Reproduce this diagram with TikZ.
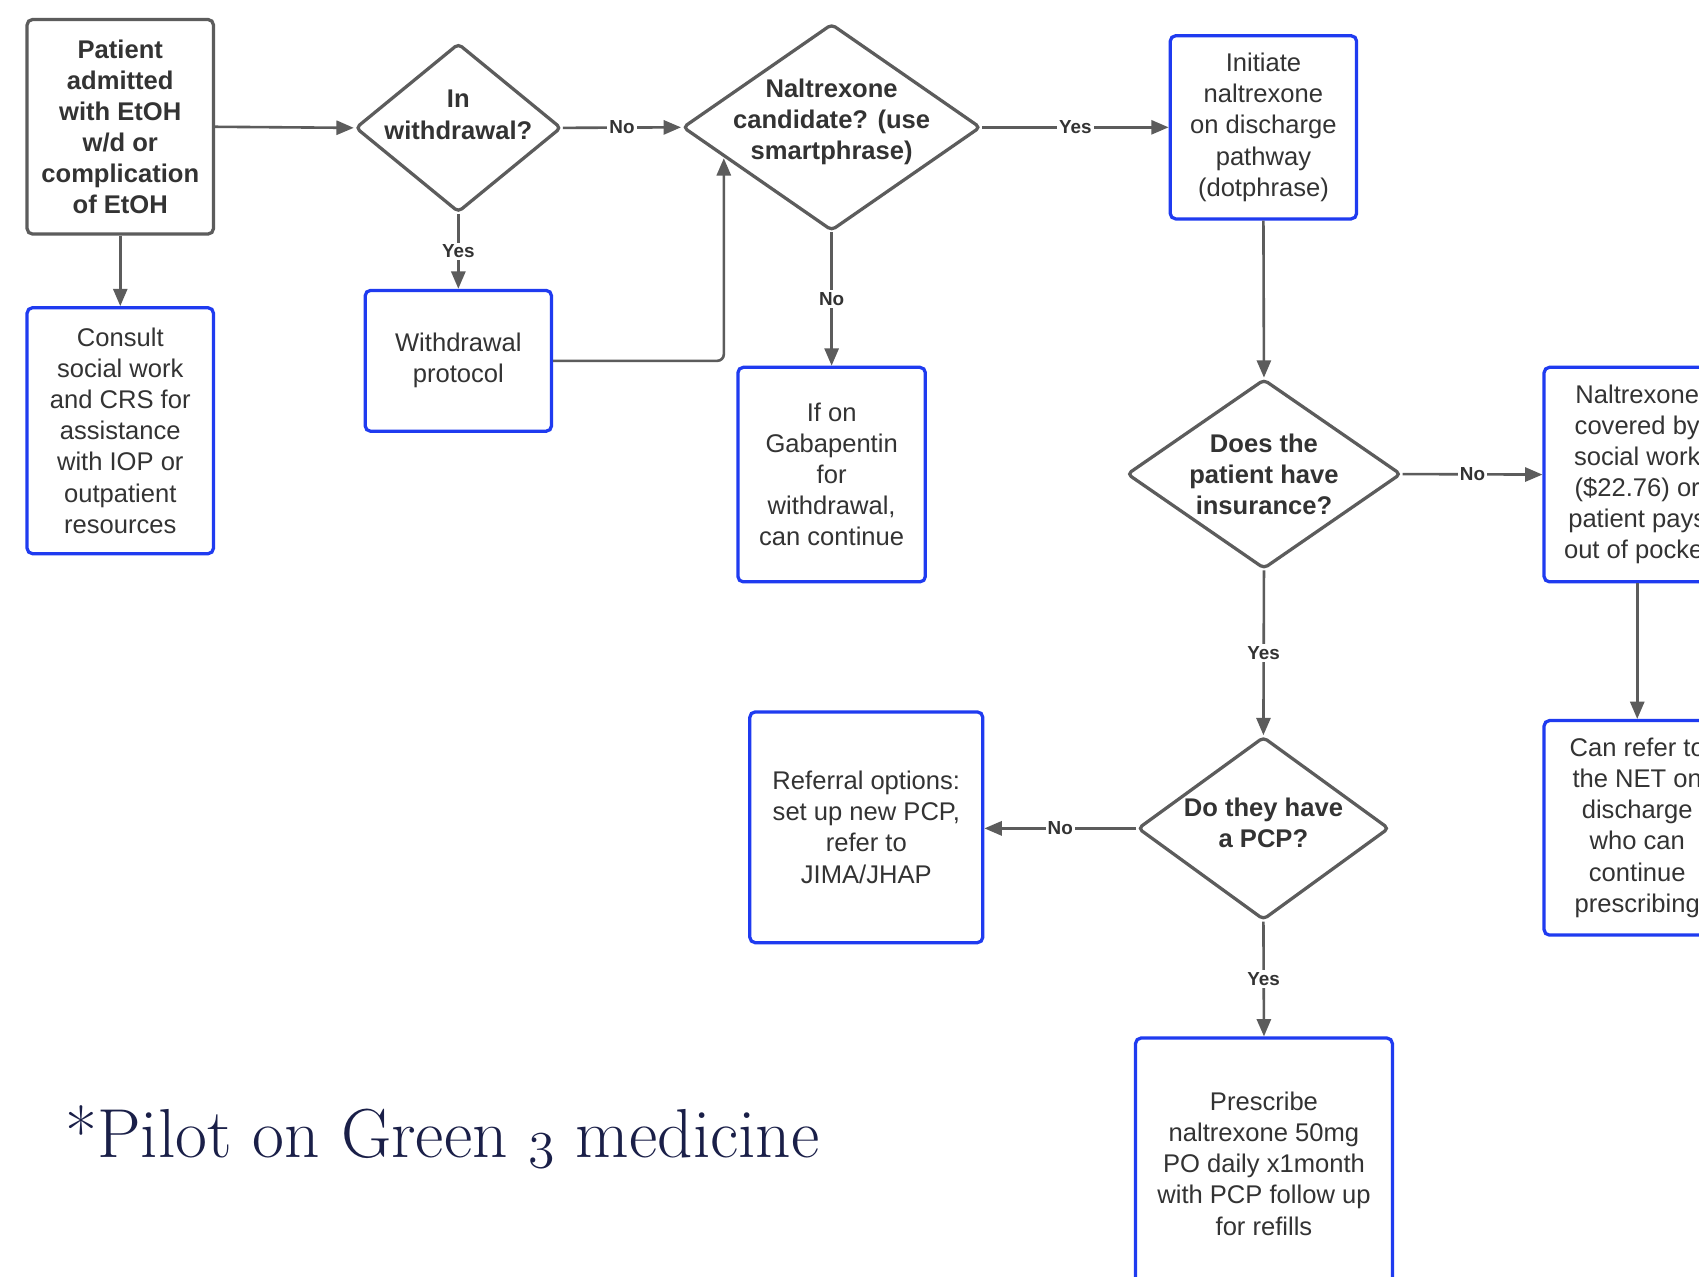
\documentclass[tikz,border=0pt]{standalone}
\usepackage{fontspec}
\newfontfamily\af{Liberation Sans}
\usetikzlibrary{arrows.meta,shapes.geometric}
\definecolor{bl}{HTML}{1F3BF0}
\definecolor{ln}{HTML}{5C5C5C}
\definecolor{tx}{HTML}{333333}
\definecolor{navy}{HTML}{1A1F48}
\newcommand{\osthree}{{\usefont{OML}{cmm}{m}{it}3}}
\begin{document}
\begin{tikzpicture}[x=0.5pt,y=-0.5pt,
  box/.style={draw, line width=1.5pt, rounded corners=2.5pt, align=center, text=tx,
    font=\af\fontsize{11.8}{14.35}\selectfont, inner sep=0pt},
  bluebox/.style={box, draw=bl},
  graybox/.style={box, draw=ln, font=\af\bfseries\fontsize{11.8}{14.35}\selectfont},
  dia/.style={diamond, draw=ln, line width=1.5pt, rounded corners=2pt, inner sep=0pt},
  dtext/.style={text=tx, font=\af\bfseries\fontsize{11.8}{14.35}\selectfont, align=center},
  conn/.style={draw=ln, line width=1.2pt, -{Triangle[length=8pt,width=6.5pt]}},
  lbl/.style={fill=white, text=tx, font=\af\bfseries\fontsize{8.7}{10}\selectfont, inner sep=1pt}]
\fill[white] (0,0) rectangle (1568,1178);
\clip (0,0) rectangle (1568,1178);

\node[graybox, minimum width=86pt, minimum height=99pt] (pat) at (111,117)
  {Patient\\admitted\\with EtOH\\w/d or\\complication\\of EtOH};
\node[bluebox, minimum width=86pt, minimum height=113.5pt] (cons) at (111,397.5)
  {Consult\\social work\\and CRS for\\assistance\\with IOP or\\outpatient\\resources};
\node[dia, minimum width=95pt, minimum height=78pt,
  label={[dtext,yshift=6pt]center:In\\withdrawal?}] (wd) at (423,118) {};
\node[bluebox, minimum width=86pt, minimum height=65pt] (wp) at (423,333)
  {Withdrawal\\protocol};
\node[dia, minimum width=137.5pt, minimum height=95.5pt,
  label={[dtext,yshift=2.5pt]center:Naltrexone\\candidate? (use\\smartphrase)}] (nal) at (767.5,117.5) {};
\node[bluebox, minimum width=86pt, minimum height=84.5pt] (ini) at (1166,117.5)
  {Initiate\\naltrexone\\on discharge\\pathway\\(dotphrase)};
\node[bluebox, minimum width=86.5pt, minimum height=99pt] (gab) at (767.5,438)
  {If on\\Gabapentin\\for\\withdrawal,\\can continue};
\node[dia, minimum width=126.5pt, minimum height=87.5pt,
  label={[dtext]center:Does the\\patient have\\insurance?}] (ins) at (1166.5,437.5) {};
\node[bluebox, minimum width=86pt, minimum height=99pt] (cov) at (1511,438)
  {Naltrexone\\covered by\\social work\\(\$22.76) or\\patient pays\\out of pocket};
\node[bluebox, minimum width=86pt, minimum height=99pt] (can) at (1511,764)
  {Can refer to\\the NET on\\discharge\\who can\\continue\\prescribing};
\node[dia, minimum width=116pt, minimum height=84.5pt,
  label={[dtext,yshift=2.5pt]center:Do they have\\a PCP?}] (pcp) at (1166,764.5) {};
\node[bluebox, minimum width=107.5pt, minimum height=106.5pt] (ref) at (799.5,763.5)
  {Referral options:\\set up new PCP,\\refer to\\JIMA/JHAP};
\node[bluebox, minimum width=118.5pt, minimum height=116pt] (pre) at (1166.5,1074)
  {Prescribe\\naltrexone 50mg\\PO daily x1month\\with PCP follow up\\for refills};

\node[anchor=base west, text=navy, font=\fontsize{32}{40}\selectfont, inner sep=0pt] (foot)
  at (60,1068) {*Pilot on Green \osthree\ medicine};

\coordinate (nin) at (668,146);

\draw[conn] (pat.east) -- (wd.west);
\draw[conn] (pat.south) -- (cons.north);
\draw[conn] (wd.east) -- node[lbl] {No} (nal.west);
\draw[conn] (wd.south) -- node[lbl] {Yes} (wp.north);
\draw[conn, rounded corners=3pt] (wp.east) -| (nin);
\draw[conn] (nal.east) -- node[lbl] {Yes} (ini.west);
\draw[conn] (nal.south) -- node[lbl] {No} (gab.north);
\draw[conn] (ini.south) -- (ins.north);
\draw[conn] (ins.east) -- node[lbl] {No} (cov.west);
\draw[conn] (ins.south) -- node[lbl] {Yes} (pcp.north);
\draw[conn] (cov.south) -- (can.north);
\draw[conn] (pcp.west) -- node[lbl] {No} (pcp.west -| ref.east);
\draw[conn] (pcp.south) -- node[lbl] {Yes} (pre.north);
\end{tikzpicture}
\end{document}
